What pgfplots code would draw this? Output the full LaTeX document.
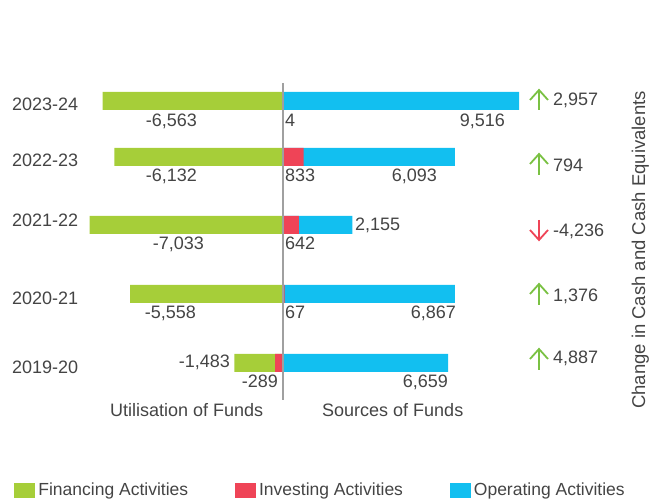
\documentclass[border=0pt]{standalone}
\usepackage{fontspec}
\setmainfont{Liberation Sans}
\usepackage{pgfplots}
\usepackage{pgfplotstable}
\pgfplotsset{compat=1.18}
\definecolor{fingreen}{HTML}{A6CE39}
\definecolor{invred}{HTML}{EF4457}
\definecolor{opblue}{HTML}{12BFF0}
\definecolor{textgray}{HTML}{444444}
\definecolor{arrowgreen}{HTML}{7AC143}
\definecolor{arrowred}{HTML}{EF4457}
\definecolor{linegray}{HTML}{A0A0A0}

% y = vertical position of each year's bar
\pgfplotstableread{
year y fin inv op net
2023-24 401 -6563 4 9516 2957
2022-23 345 -6132 833 6093 794
2021-22 277 -7033 642 2155 -4236
2020-21 208 -5558 67 6867 1376
2019-20 139 -1483 -289 6659 4887
}\cashdata

\begin{document}
\begin{tikzpicture}[every node/.style={font=\fontsize{18}{21}\selectfont, text=textgray}]
\useasboundingbox (0,0) rectangle (663pt,502pt);
\pgfplotsset{
  halfaxis/.style={scale only axis, height=502pt, ymin=0, ymax=502, hide axis, clip=false, anchor=south west},
  mybar/.style={xbar, bar width=18pt, bar shift=0pt, draw=none, forget plot}
}

% Utilisation side (negative values)
\begin{axis}[halfaxis, width=206.25pt, xmin=-7500, xmax=0, at={(76.75pt,0pt)}]
\addplot[mybar, fill=fingreen] table[x expr={\thisrow{fin}+min(\thisrow{inv},0)}, y=y]{\cashdata};
\addplot[mybar, fill=invred] table[x expr={min(\thisrow{inv},0)}, y=y]{\cashdata};
\end{axis}

% Sources side (positive values)
\begin{axis}[halfaxis, width=248pt, xmin=0, xmax=10000, at={(283pt,0pt)},
  legend columns=3,
  legend cell align=left,
  legend style={at={(axis description cs:-1.0847,0.0239)}, anchor=west,
    draw=none, fill=none, inner sep=0pt, outer sep=0pt,
    text=textgray,
    nodes={inner sep=0pt, font=\fontsize{17.5}{20}\selectfont},
    /tikz/every odd column/.append style={column sep=4pt},
    /tikz/every even column/.append style={column sep=46.5pt}},
  legend entries={Financing Activities, Investing Activities, Operating Activities}]
\addlegendimage{legend image code/.code={\fill[fingreen] (0pt,-7pt) rectangle (20pt,7pt);}}
\addlegendimage{legend image code/.code={\fill[invred] (0pt,-7pt) rectangle (20pt,7pt);}}
\addlegendimage{legend image code/.code={\fill[opblue] (0pt,-7pt) rectangle (20pt,7pt);}}
\addplot[mybar, fill=opblue] table[x expr={max(\thisrow{inv},0)+\thisrow{op}}, y=y]{\cashdata};
\addplot[mybar, fill=invred] table[x expr={max(\thisrow{inv},0)}, y=y]{\cashdata};
\draw[linegray, line width=1.2pt] (axis cs:0,419) -- (axis cs:0,102);
\end{axis}

% year labels
\node[anchor=base west, inner sep=0pt] at (12pt,391pt) {2023-24};
\node[anchor=base west, inner sep=0pt] at (12pt,335pt) {2022-23};
\node[anchor=base west, inner sep=0pt] at (12pt,275pt) {2021-22};
\node[anchor=base west, inner sep=0pt] at (12pt,197pt) {2020-21};
\node[anchor=base west, inner sep=0pt] at (12pt,128pt) {2019-20};

% value labels
\node[anchor=base east, inner sep=0pt] at (197pt,375pt) {-6,563};
\node[anchor=base west, inner sep=0pt] at (285pt,375pt) {4};
\node[anchor=base east, inner sep=0pt] at (505pt,375pt) {9,516};
\node[anchor=base east, inner sep=0pt] at (197pt,320.5pt) {-6,132};
\node[anchor=base west, inner sep=0pt] at (285pt,320.5pt) {833};
\node[anchor=base east, inner sep=0pt] at (437pt,320.5pt) {6,093};
\node[anchor=base east, inner sep=0pt] at (204pt,252pt) {-7,033};
\node[anchor=base west, inner sep=0pt] at (285pt,252pt) {642};
\node[anchor=base west, inner sep=0pt] at (355pt,271pt) {2,155};
\node[anchor=base east, inner sep=0pt] at (196pt,183pt) {-5,558};
\node[anchor=base west, inner sep=0pt] at (285pt,183pt) {67};
\node[anchor=base east, inner sep=0pt] at (456pt,183pt) {6,867};
\node[anchor=base east, inner sep=0pt] at (230pt,134pt) {-1,483};
\node[anchor=base east, inner sep=0pt] at (278pt,114pt) {-289};
\node[anchor=base east, inner sep=0pt] at (448pt,114pt) {6,659};

% net change arrows and totals
\draw[arrowgreen, line width=1.8pt] (539pt,392pt) -- (539pt,412pt);
\draw[arrowgreen, line width=1.8pt] (530pt,402pt) -- (539pt,412pt) -- (548pt,402pt);
\draw[arrowgreen, line width=1.8pt] (539pt,327pt) -- (539pt,348pt);
\draw[arrowgreen, line width=1.8pt] (530pt,338pt) -- (539pt,348pt) -- (548pt,338pt);
\draw[arrowred, line width=1.8pt] (539pt,282pt) -- (539pt,262pt);
\draw[arrowred, line width=1.8pt] (530pt,272pt) -- (539pt,262pt) -- (548pt,272pt);
\draw[arrowgreen, line width=1.8pt] (539pt,197pt) -- (539pt,218pt);
\draw[arrowgreen, line width=1.8pt] (530pt,208pt) -- (539pt,218pt) -- (548pt,208pt);
\draw[arrowgreen, line width=1.8pt] (539pt,132pt) -- (539pt,153pt);
\draw[arrowgreen, line width=1.8pt] (530pt,143pt) -- (539pt,153pt) -- (548pt,143pt);

\node[anchor=base west, inner sep=0pt] at (553pt,396pt) {2,957};
\node[anchor=base west, inner sep=0pt] at (553pt,330pt) {794};
\node[anchor=base west, inner sep=0pt] at (553pt,265pt) {-4,236};
\node[anchor=base west, inner sep=0pt] at (553pt,200.5pt) {1,376};
\node[anchor=base west, inner sep=0pt] at (553pt,138pt) {4,887};

% side and bottom captions
\node[anchor=base, rotate=90, inner sep=0pt, font=\fontsize{18.5}{22}\selectfont] at (645pt,252pt) {Change in Cash and Cash Equivalents};
\node[anchor=base west, inner sep=0pt] at (110pt,85pt) {Utilisation of Funds};
\node[anchor=base west, inner sep=0pt] at (322pt,85pt) {Sources of Funds};
\end{tikzpicture}
\end{document}
